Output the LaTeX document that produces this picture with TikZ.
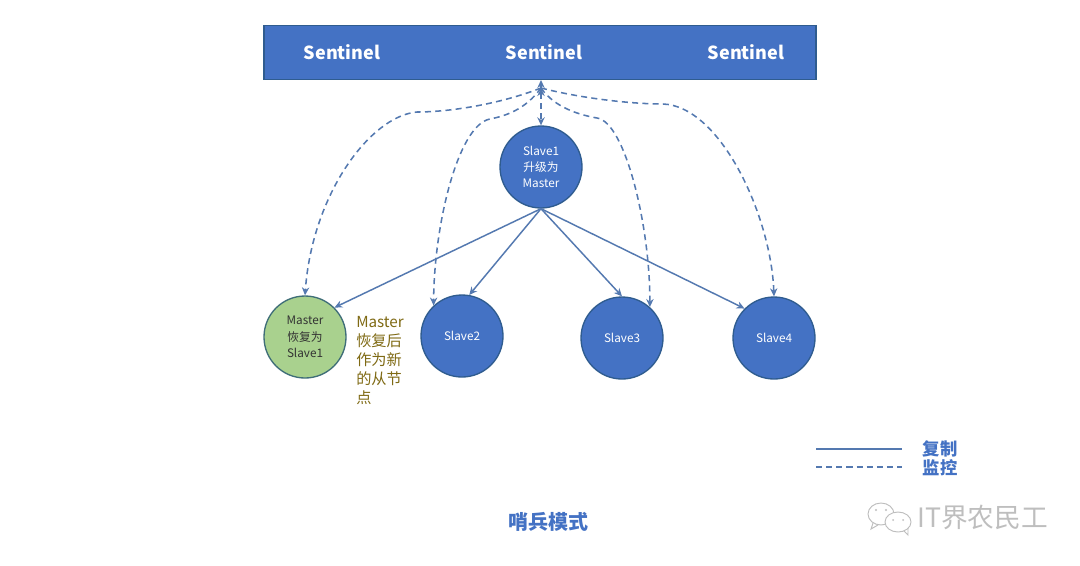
\documentclass[tikz,border=0pt]{standalone}
\usepackage{fontspec}
\setmainfont{Noto Sans CJK SC}
\usetikzlibrary{arrows.meta}
\definecolor{bluefill}{HTML}{4472C4}
\definecolor{blueedge}{HTML}{2F5C8F}
\definecolor{linkblue}{HTML}{5479B0}
\definecolor{labelblue}{HTML}{4472C4}
\definecolor{greenfill}{HTML}{A9D18E}
\definecolor{greenedge}{HTML}{3F6E78}
\definecolor{olive}{HTML}{7F6A14}
\definecolor{wm}{HTML}{BEBEBE}
\tikzset{
  bluecirc/.style={circle,draw=blueedge,line width=1pt,fill=bluefill,minimum size=61.5pt,inner sep=0pt,text=white,font=\fontsize{8.8}{12.2}\selectfont,align=center},
  greencirc/.style={bluecirc,draw=greenedge,fill=greenfill,text=black!80},
  sentbar/.style={rectangle,draw=blueedge,line width=.8pt,fill=bluefill,minimum width=414pt,minimum height=40pt,inner sep=0pt},
  senttext/.style={text=white,font=\fontsize{13.5}{16}\selectfont\bfseries},
  solidlink/.style={draw=linkblue,line width=1.1pt,-{Stealth[length=6pt,width=5.5pt]}},
  dashlink/.style={draw=linkblue,line width=1.15pt,dash pattern=on 4.5pt off 3.2pt,-{Stealth[length=6pt,width=5.5pt]}},
  legendtext/.style={text=labelblue,font=\fontsize{13}{14}\selectfont\bfseries},
}
\begin{document}
\begin{tikzpicture}[x=.75pt,y=-.75pt]
\useasboundingbox (0,0) rectangle (1080,565);
\fill[white] (0,0) rectangle (1080,565);
\node[sentbar] (bar) at (540,52.5) {};
\node[senttext] (s1) at (342,52) {Sentinel};
\node[senttext] (s2) at (544,52) {Sentinel};
\node[senttext] (s3) at (746,52) {Sentinel};
\node[bluecirc] (up) at (541,167) {Slave1\\升级为\\Master};
\node[greencirc] (old) at (305,337) {Master\\恢复为\\Slave1};
\node[bluecirc] (b2) at (462,336) {Slave2};
\node[bluecirc] (b3) at (622,338) {Slave3};
\node[bluecirc] (b4) at (774,338) {Slave4};
\node[anchor=north west,text=olive,align=left,inner sep=0pt,font=\fontsize{11.4}{14.25}\selectfont] (note) at (356,316) {Master\\恢复后\\作为新\\的从节\\点};
\coordinate (top) at (541,80);
\coordinate (hub) at (541,88);
% solid links
\draw[solidlink] (up.south) -- (old.45);
\draw[solidlink] (up.south) -- (b2.80);
\draw[solidlink] (up.south) -- (b3.90);
\draw[solidlink] (up.south) -- (b4.135);
% dashed links
\draw[dashlink,dash pattern=] (hub) -- (top);
\draw[dashlink,{Stealth[length=6pt,width=5.5pt]}-{Stealth[length=6pt,width=5.5pt]}] (hub) -- (up.north);
\draw[dashlink] (hub) .. controls (500,104) and (450,112) .. (417,112) .. controls (370,116) and (312,195) .. (old.north);
\draw[dashlink] (hub) .. controls (525,110) and (505,116) .. (490,119) .. controls (458,125) and (434,225) .. (b2.133);
\draw[dashlink] (hub) .. controls (555,108) and (580,115) .. (597,118) .. controls (625,122) and (650,225) .. (b3.48);
\draw[dashlink] (hub) .. controls (580,98) and (630,104) .. (663,104) .. controls (720,106) and (771,215) .. (b4.north);
% legend
\coordinate (l1a) at (816,449);
\coordinate (l1b) at (902,449);
\coordinate (l2a) at (816,467);
\coordinate (l2b) at (902,467);
\draw[linkblue,line width=1pt] (l1a) -- (l1b);
\draw[linkblue,line width=1pt,dash pattern=on 4.6pt off 3pt] (l2a) -- (l2b);
\node[legendtext] (lg1) at (940,449) {复制};
\node[legendtext] (lg2) at (940,468) {监控};
\node[text=labelblue,font=\fontsize{15}{17}\selectfont\bfseries] (title) at (548,522) {哨兵模式};
% watermark
\node[text=wm,font=\fontsize{20}{22}\selectfont,anchor=west,inner sep=0pt] (mark) at (917,517) {IT界农民工};
\draw[wm,line width=.7pt,fill=white] (881,514) ellipse (13 and 11);
\draw[wm,line width=.7pt] (873,523) -- (871,529) -- (878,525);
\draw[wm,line width=.7pt,fill=white] (898,522) ellipse (13 and 10);
\draw[wm,line width=.7pt] (904,531) -- (908,535) -- (908,528);
\fill[wm] (876,510) circle (1.2) (886,510) circle (1.2) (893,520) circle (1) (903,520) circle (1);
\end{tikzpicture}
\end{document}
